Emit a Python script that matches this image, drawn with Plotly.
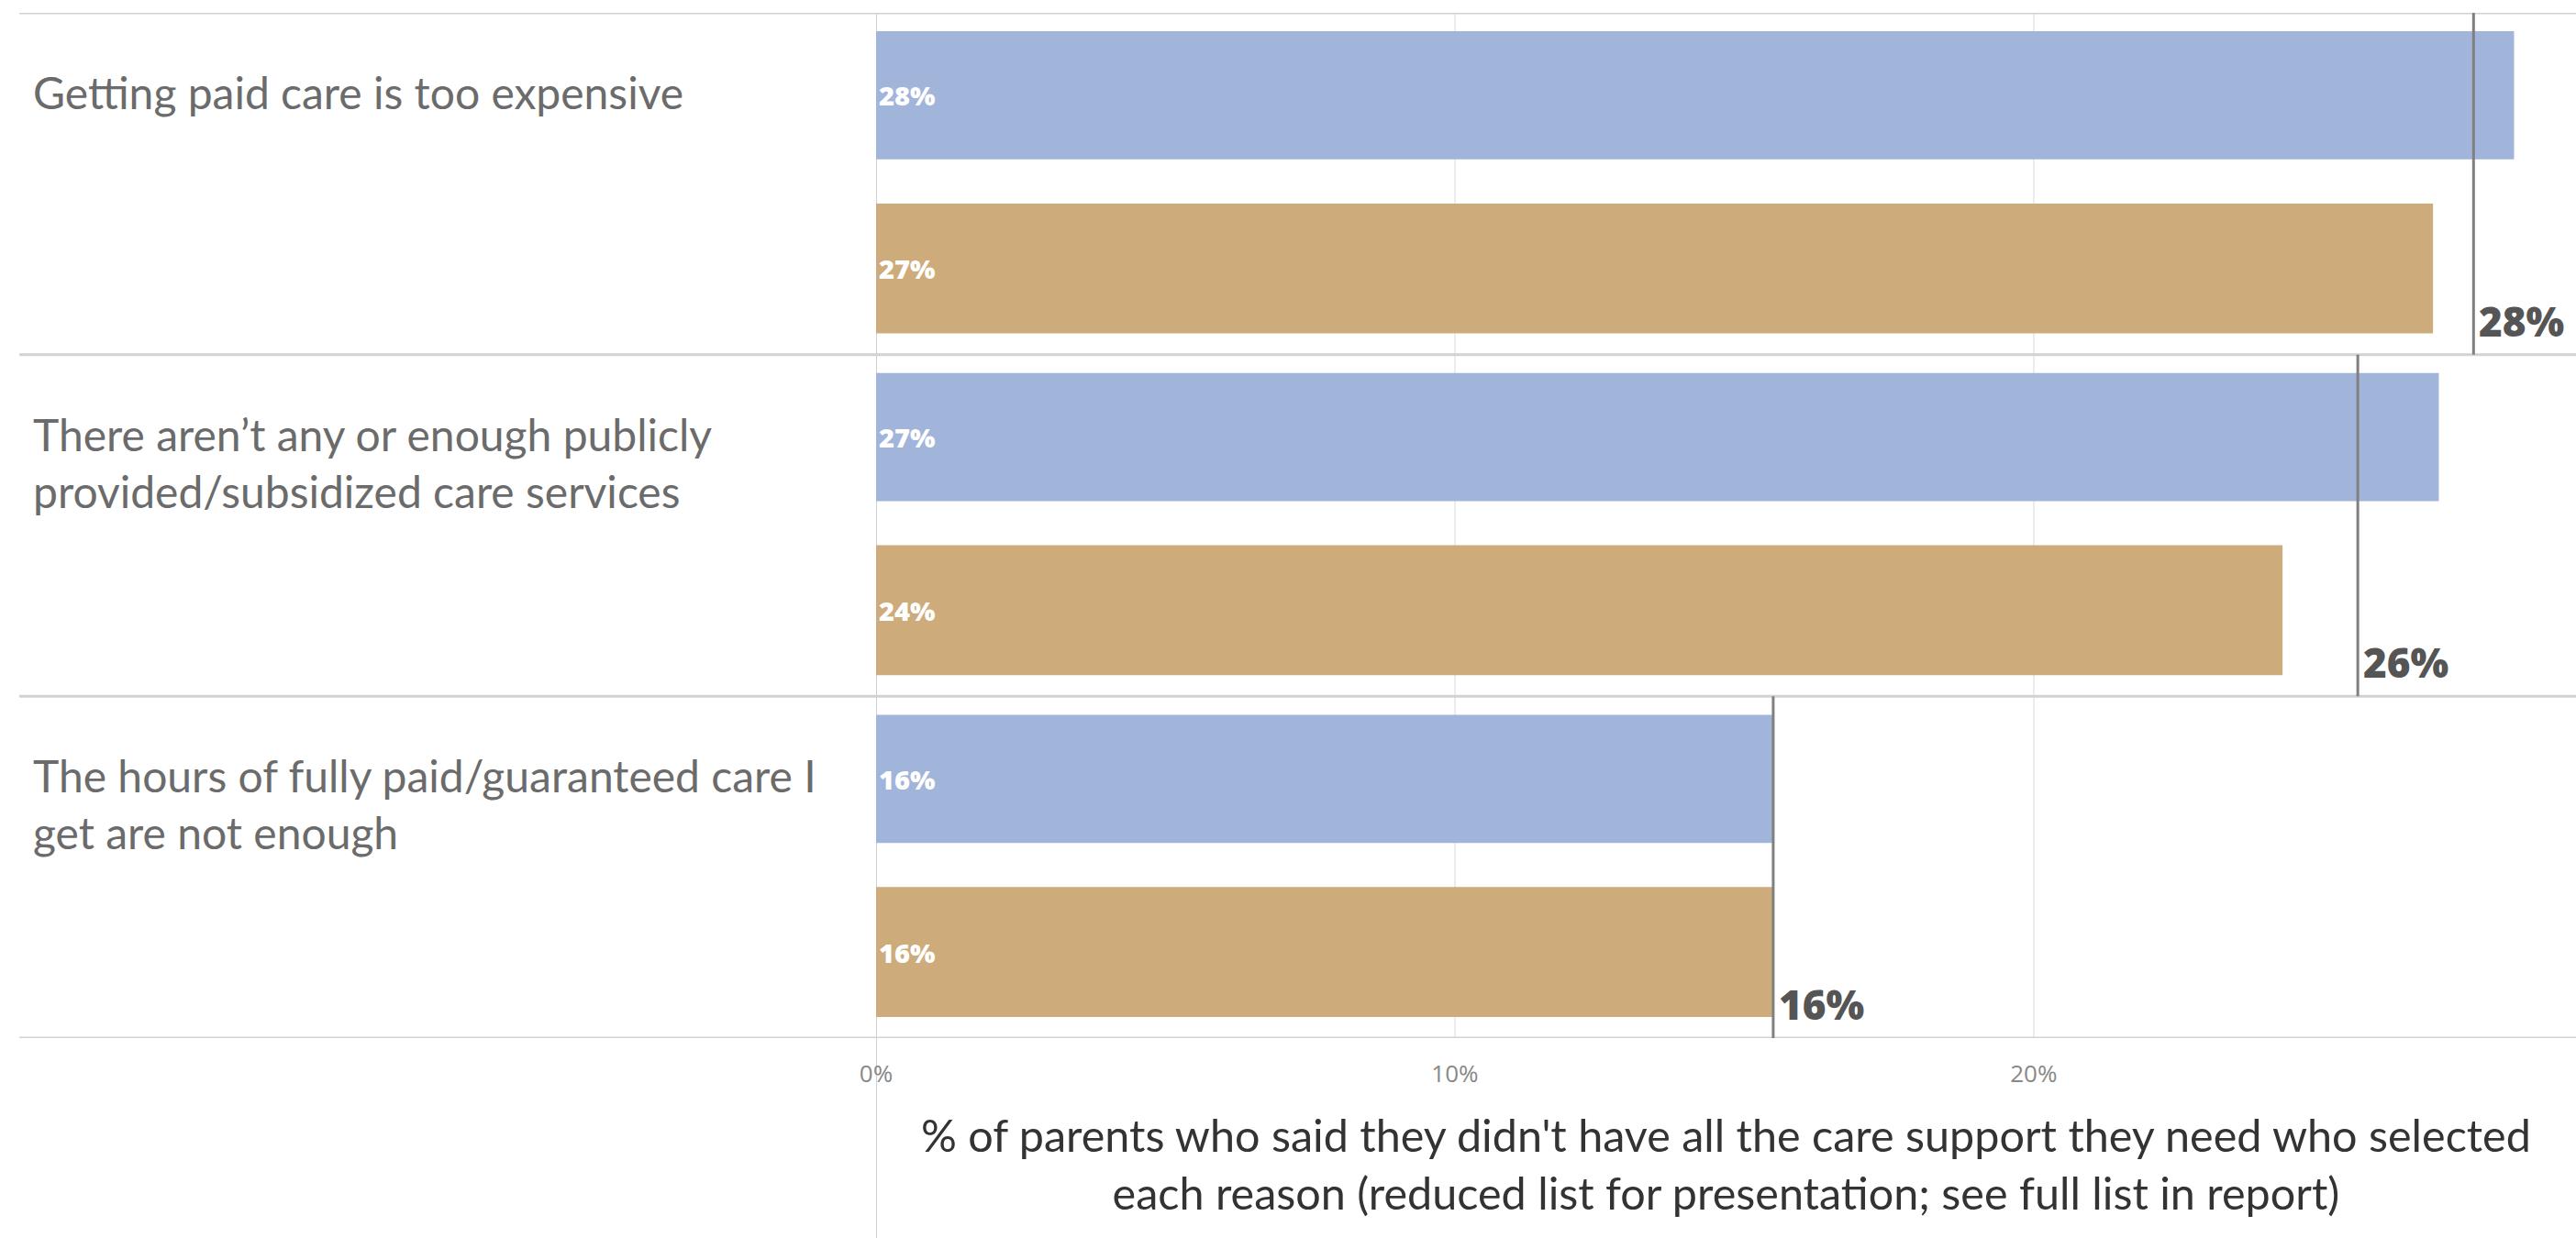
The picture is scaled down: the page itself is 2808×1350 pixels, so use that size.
import plotly.graph_objects as go

# ---- data ----
reasons = [
    "Getting paid care is too expensive",
    "There aren’t any or enough publicly<br>provided/subsidized care services",
    "The hours of fully paid/guaranteed care I<br>get are not enough",
]
series_blue = [28.3, 27.0, 15.5]
series_tan = [26.9, 24.3, 15.5]
overall = [27.6, 25.6, 15.5]
labels_blue = ["28%", "27%", "16%"]
labels_tan = ["27%", "24%", "16%"]
labels_overall = ["28%", "26%", "16%"]
tick_vals = [0, 10, 20]
tick_text = ["0%", "10%", "20%"]
axis_title = ("% of parents who said they didn't have all the care support they need who selected"
              "<br>each reason (reduced list for presentation; see full list in report)")

BLUE = "#A1B4DA"
TAN = "#CDAB7A"
LABEL_FONT = "Lato"
NUM_FONT = "Open Sans"

fig = go.Figure()
fig.add_trace(go.Bar(
    x=series_blue, y=reasons, orientation="h", width=0.375, offset=-0.446,
    marker=dict(color=BLUE, line=dict(width=0)),
    text=labels_blue, textposition="inside", insidetextanchor="start", textangle=0,
    textfont=dict(color="white", size=29, family=NUM_FONT, weight=800),
    showlegend=False, hoverinfo="skip",
))
fig.add_trace(go.Bar(
    x=series_tan, y=reasons, orientation="h", width=0.38, offset=0.058,
    marker=dict(color=TAN, line=dict(width=0)),
    text=labels_tan, textposition="inside", insidetextanchor="start", textangle=0,
    textfont=dict(color="white", size=29, family=NUM_FONT, weight=800),
    showlegend=False, hoverinfo="skip",
))

shapes = []
annotations = []
# separators between groups
for k in range(len(reasons) + 1):
    shapes.append(dict(type="line", xref="paper", yref="y", x0=-0.504, x1=1.0,
                       y0=k - 0.5, y1=k - 0.5, line=dict(color="#d2d2d2", width=3),
                       layer="above"))
# left axis line extending below
shapes.append(dict(type="line", xref="x", yref="paper", x0=0, x1=0, y0=-0.2, y1=1.0,
                   line=dict(color="#cfcfcf", width=2), layer="below"))
# overall reference lines and labels
for i, (v, lab) in enumerate(zip(overall, labels_overall)):
    shapes.append(dict(type="line", xref="x", yref="y", x0=v, x1=v, y0=i - 0.5, y1=i + 0.5,
                       line=dict(color="#808080", width=3), layer="above"))
    annotations.append(dict(x=v, y=i + 0.5, xref="x", yref="y", text=lab,
                            showarrow=False, xanchor="left", yanchor="bottom",
                            xshift=4, yshift=5,
                            font=dict(size=44, color="#555555", family=NUM_FONT, weight=800)))
# category labels on the left
for i, r in enumerate(reasons):
    annotations.append(dict(x=-0.497, y=i - 0.35, xref="paper", yref="y", text=r,
                            showarrow=False, xanchor="left", yanchor="top", align="left",
                            font=dict(size=48, color="#6b6b6b", family=LABEL_FONT)))
# axis title
annotations.append(dict(x=0.5, y=-0.066, xref="paper", yref="paper", text=axis_title,
                        showarrow=False, xanchor="center", yanchor="top", align="center",
                        font=dict(size=48.5, color="#333333", family=LABEL_FONT)))

fig.update_layout(
    width=2808, height=1350,
    margin=dict(l=955, r=0, t=14, b=218),
    paper_bgcolor="white", plot_bgcolor="white",
    barmode="overlay",
    shapes=shapes, annotations=annotations,
    xaxis=dict(range=[0, 29.37], tickvals=tick_vals, ticktext=tick_text,
               showgrid=True, gridcolor="#ececec", gridwidth=2, zeroline=False,
               showline=False, ticks="outside", ticklen=16, tickcolor="rgba(0,0,0,0)",
               tickfont=dict(size=26, color="#888888", family=NUM_FONT)),
    yaxis=dict(range=[2.5, -0.5], showticklabels=False, showgrid=False, zeroline=False,
               showline=False, ticks=""),
)

fig.write_html("out.html", config={"displayModeBar": False},
               post_script="document.body.style.margin='0';")
